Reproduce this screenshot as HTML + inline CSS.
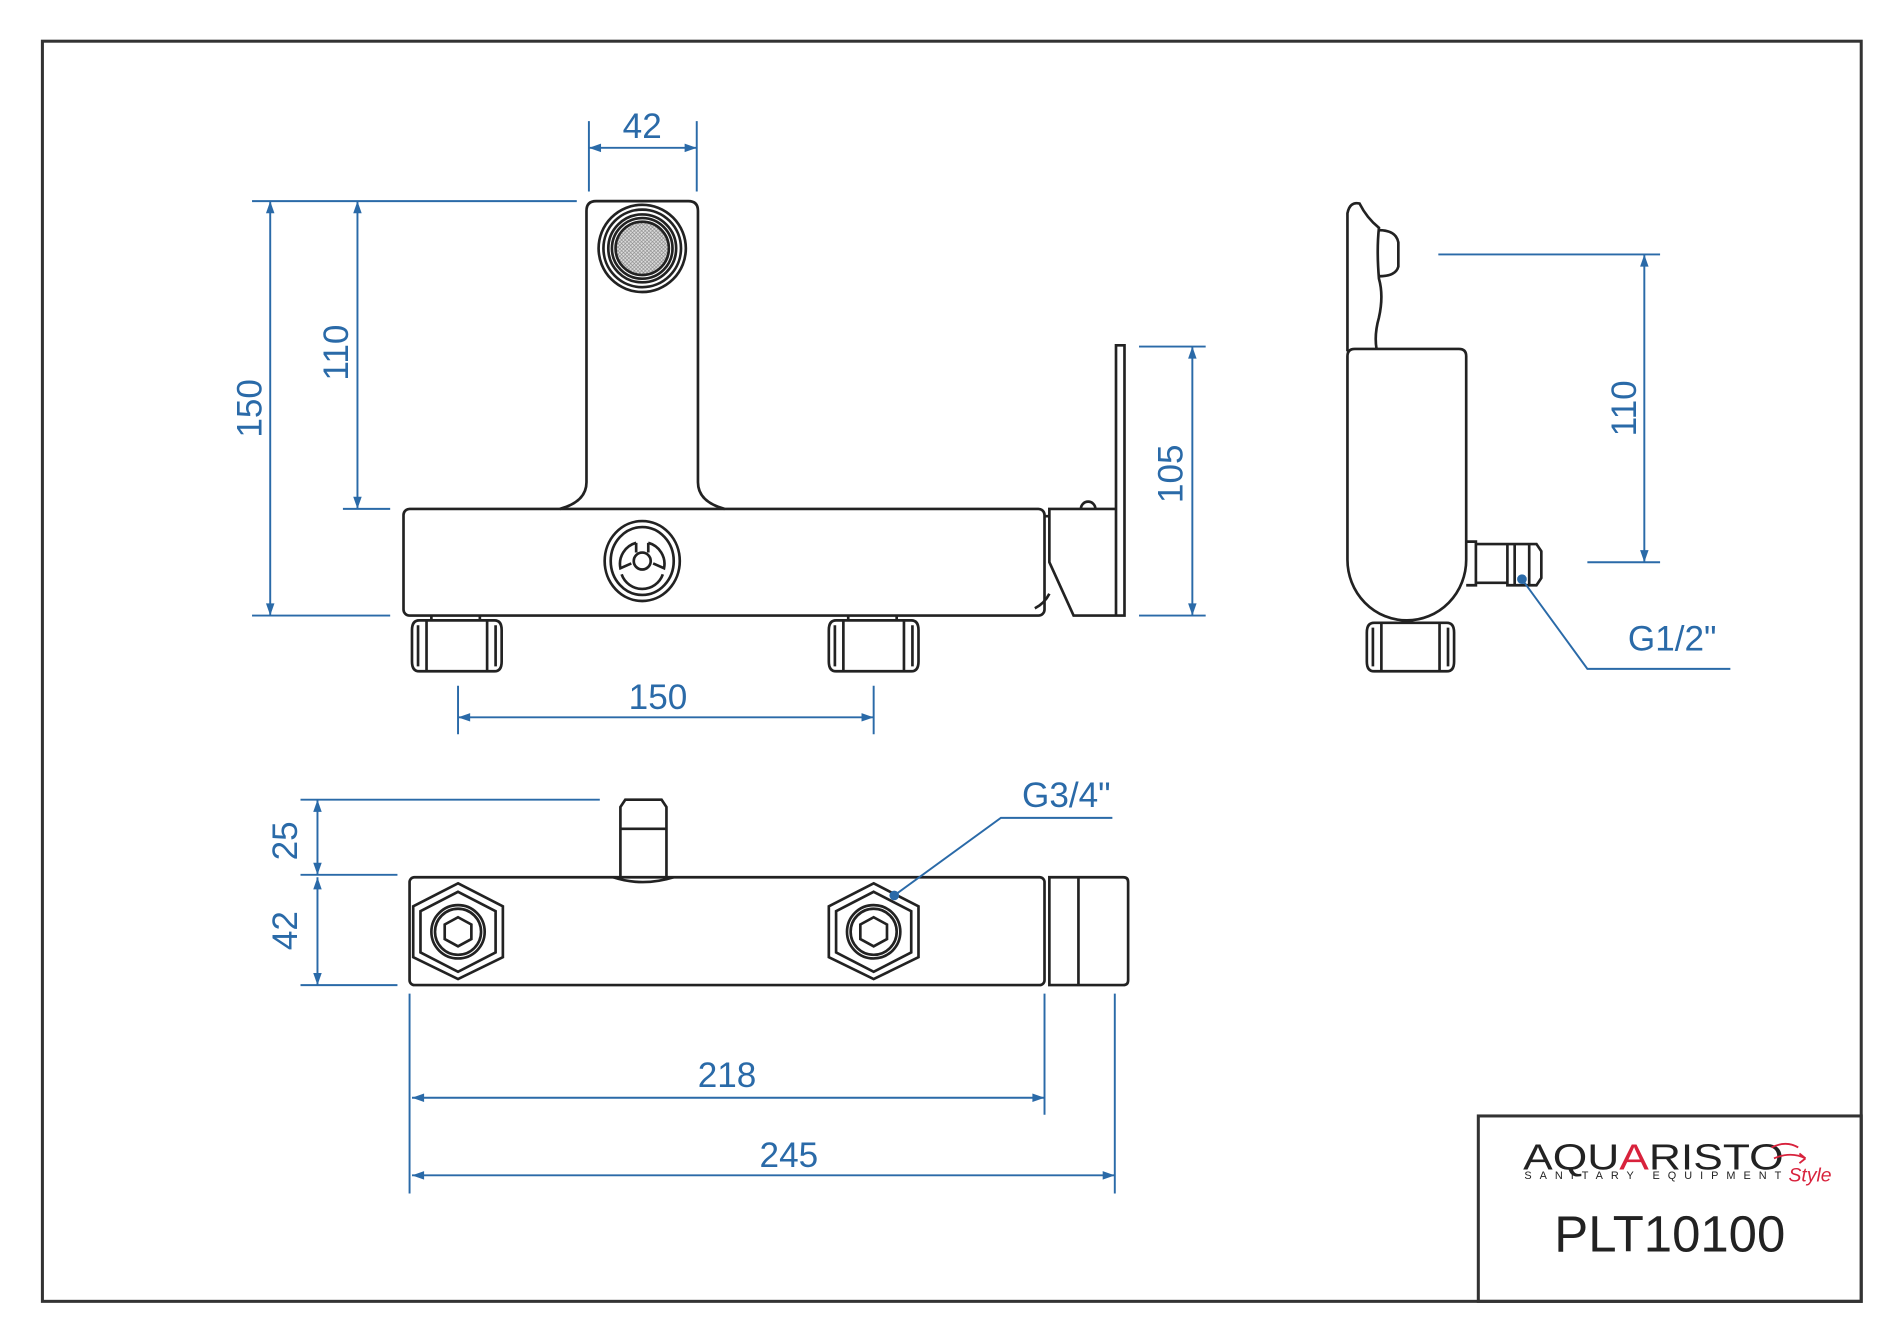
<!DOCTYPE html>
<html><head><meta charset="utf-8"><style>
html,body{margin:0;padding:0;background:#fff}
svg{display:block}
text{font-family:"Liberation Sans",sans-serif}
</style></head><body>
<svg width="1900" height="1328" viewBox="0 0 1568 1096" preserveAspectRatio="none" xmlns="http://www.w3.org/2000/svg">
<defs>
<marker id="a" viewBox="0 0 10 10" refX="10" refY="5" markerWidth="16" markerHeight="10" markerUnits="userSpaceOnUse" orient="auto-start-reverse"><path d="M0,1.5 L10,5 L0,8.5 z" fill="#2a6aa8"/></marker>
<pattern id="h" width="3" height="3" patternUnits="userSpaceOnUse"><rect width="3" height="3" fill="#ddd"/><path d="M0,0L3,3M3,0L0,3" stroke="#888" stroke-width="0.5"/></pattern>
</defs>
<rect x="0" y="0" width="1568" height="1096" fill="#fff"/>
<rect x="35" y="34" width="1501" height="1040" fill="none" stroke="#333" stroke-width="2.5"/>
<rect x="1220" y="921" width="316" height="153" fill="none" stroke="#333" stroke-width="2.5"/>
<text x="1257" y="965" font-size="30" fill="#222" letter-spacing="0" textLength="215" lengthAdjust="spacingAndGlyphs">AQU<tspan fill="#d8223c">A</tspan>RISTO</text>
<text x="1258" y="973" font-size="9" fill="#222" textLength="212" lengthAdjust="spacing">SANITARY EQUIPMENT</text>
<text x="1476" y="975" font-size="16" fill="#d8223c" font-style="italic" font-family="Liberation Serif,serif">Style</text>
<path d="M1462,947 q12,-6 22,0 M1464,956 q14,-6 26,0 l-5,-4 M1490,956 l-5,4" fill="none" stroke="#d8223c" stroke-width="1.5"/>
<text x="1378" y="1033" font-size="42" fill="#222" text-anchor="middle">PLT10100</text>

<g fill="none" stroke="#222" stroke-width="2.2">
<path d="M462,420 Q484,414 484,398 L484,174 Q484,166 492,166 L568,166 Q576,166 576,174 L576,398 Q576,414 598,420"/>
<circle cx="530" cy="205" r="36"/><circle cx="530" cy="205" r="32"/><circle cx="530" cy="205" r="28"/><circle cx="530" cy="205" r="25"/>
<circle cx="530" cy="205" r="22" fill="url(#h)"/>
<rect x="333" y="420" width="529" height="88" rx="5"/>
<ellipse cx="530" cy="463" rx="31" ry="33"/><ellipse cx="530" cy="463" rx="26" ry="28"/>
<circle cx="530" cy="463" r="7"/>
<path d="M525,448 a18,18 0 0 0 -13,21 l9,-4 M535,448 a18,18 0 0 1 13,21 l-9,-4 M513,474 a18,18 0 0 0 34,0"/>
<path d="M525,448 l0,8 M535,448 l0,8"/>
<path d="M340,520 q0,-8 6,-8 l62,0 q6,0 6,8 l0,26 q0,8 -6,8 l-62,0 q-6,0 -6,-8z M352,512 l0,42 M402,512 l0,42 M345,516 l0,34 M409,516 l0,34 M356,508 l0,4 M396,508 l0,4"/>
<path d="M684,520 q0,-8 6,-8 l62,0 q6,0 6,8 l0,26 q0,8 -6,8 l-62,0 q-6,0 -6,-8z M696,512 l0,42 M746,512 l0,42 M689,516 l0,34 M753,516 l0,34 M700,508 l0,4 M740,508 l0,4"/>
<path d="M921,285 l7,0 l0,223 l-7,0z M866,420 L921,420 L921,508 L886,508 L866,464 Z M862,426 l4,0 M866,490 q-4,8 -12,12"/>
<path d="M892,420 a6,6 0 0 1 12,0"/>
<path d="M1112,290 L1112,176 Q1114,166 1122,168 Q1128,180 1138,188 Q1136,206 1138,230 Q1142,244 1138,262 Q1134,276 1136,288"/>
<path d="M1138,190 q14,0 16,10 l0,20 q-2,8 -16,8"/>
<path d="M1118,288 L1204,288 Q1210,288 1210,294 L1210,462 A49,50 0 0 1 1112,462 L1112,294 Q1112,288 1118,288 Z"/>
<path d="M1210,447 l8,0 l0,36 l-8,0 M1218,449 l26,0 l0,32 l-26,0 M1244,449 l24,0 l4,6 l0,22 l-4,6 l-24,0 z M1250,449 l0,34 M1262,449 l0,34"/>
<path d="M1128,522 q0,-8 6,-8 l60,0 q6,0 6,8 l0,24 q0,8 -6,8 l-60,0 q-6,0 -6,-8z M1140,514 l0,40 M1188,514 l0,40 M1133,518 l0,32 M1195,518 l0,32"/>
<rect x="338" y="724" width="524" height="89" rx="4"/>
<path d="M866,724 l61,0 q4,0 4,4 l0,81 q0,4 -4,4 l-61,0 z M890,724 l0,89"/>
<path d="M512,724 L512,666 l4,-6 l30,0 l4,6 L550,724 M512,684 l38,0 M506,724 q24,8 50,0"/>
<polygon points="378,729 415,748 415,790 378,808 341,790 341,748"/>
<polygon points="378,736 409,752 409,786 378,802 347,786 347,752"/>
<circle cx="378" cy="769" r="22"/><circle cx="378" cy="769" r="19"/>
<polygon points="378,757 389,763 389,775 378,781 367,775 367,763"/>
<polygon points="721,729 758,748 758,790 721,808 684,790 684,748"/>
<polygon points="721,736 752,752 752,786 721,802 690,786 690,752"/>
<circle cx="721" cy="769" r="22"/><circle cx="721" cy="769" r="19"/>
<polygon points="721,757 732,763 732,775 721,781 710,775 710,763"/>
</g>

<g stroke="#2a6aa8" stroke-width="1.6" fill="none">
<path d="M486,100 L486,158 M575,100 L575,158"/>
<line x1="486" y1="122" x2="575" y2="122" marker-start="url(#a)" marker-end="url(#a)"/>
<path d="M208,166 L476,166 M208,508 L322,508 M283,420 L322,420"/>
<line x1="223" y1="166" x2="223" y2="508" marker-start="url(#a)" marker-end="url(#a)"/>
<line x1="295" y1="166" x2="295" y2="420" marker-start="url(#a)" marker-end="url(#a)"/>
<path d="M940,286 L995,286 M940,508 L995,508"/>
<line x1="984" y1="286" x2="984" y2="508" marker-start="url(#a)" marker-end="url(#a)"/>
<path d="M378,566 L378,606 M721,566 L721,606"/>
<line x1="378" y1="592" x2="721" y2="592" marker-start="url(#a)" marker-end="url(#a)"/>
<path d="M1187,210 L1370,210 M1310,464 L1370,464"/>
<line x1="1357" y1="210" x2="1357" y2="464" marker-start="url(#a)" marker-end="url(#a)"/>
<path d="M1256,478 L1310,552 L1428,552"/>
<path d="M248,660 L495,660 M248,722 L328,722 M248,813 L328,813"/>
<line x1="262" y1="660" x2="262" y2="722" marker-start="url(#a)" marker-end="url(#a)"/>
<line x1="262" y1="724" x2="262" y2="813" marker-start="url(#a)" marker-end="url(#a)"/>
<path d="M338,820 L338,985 M862,820 L862,920 M920,820 L920,985"/>
<line x1="340" y1="906" x2="862" y2="906" marker-start="url(#a)" marker-end="url(#a)"/>
<line x1="340" y1="970" x2="920" y2="970" marker-start="url(#a)" marker-end="url(#a)"/>
<path d="M738,739 L826,675 L918,675"/>
</g>
<circle cx="1256" cy="478" r="4" fill="#2a6aa8"/>
<circle cx="738" cy="739" r="4" fill="#2a6aa8"/>

<g fill="#2a6aa8" font-size="29">
<text x="530" y="114" text-anchor="middle">42</text>
<text x="543" y="585" text-anchor="middle">150</text>
<text x="600" y="897" text-anchor="middle">218</text>
<text x="651" y="963" text-anchor="middle">245</text>
<text x="1380" y="537" text-anchor="middle">G1/2"</text>
<text x="880" y="666" text-anchor="middle">G3/4"</text>
<text transform="translate(216,337) rotate(-90)" text-anchor="middle">150</text>
<text transform="translate(287,291) rotate(-90)" text-anchor="middle">110</text>
<text transform="translate(976,391) rotate(-90)" text-anchor="middle">105</text>
<text transform="translate(1350,337) rotate(-90)" text-anchor="middle">110</text>
<text transform="translate(245,694) rotate(-90)" text-anchor="middle">25</text>
<text transform="translate(245,768) rotate(-90)" text-anchor="middle">42</text>
</g>
</svg>
</body></html>
